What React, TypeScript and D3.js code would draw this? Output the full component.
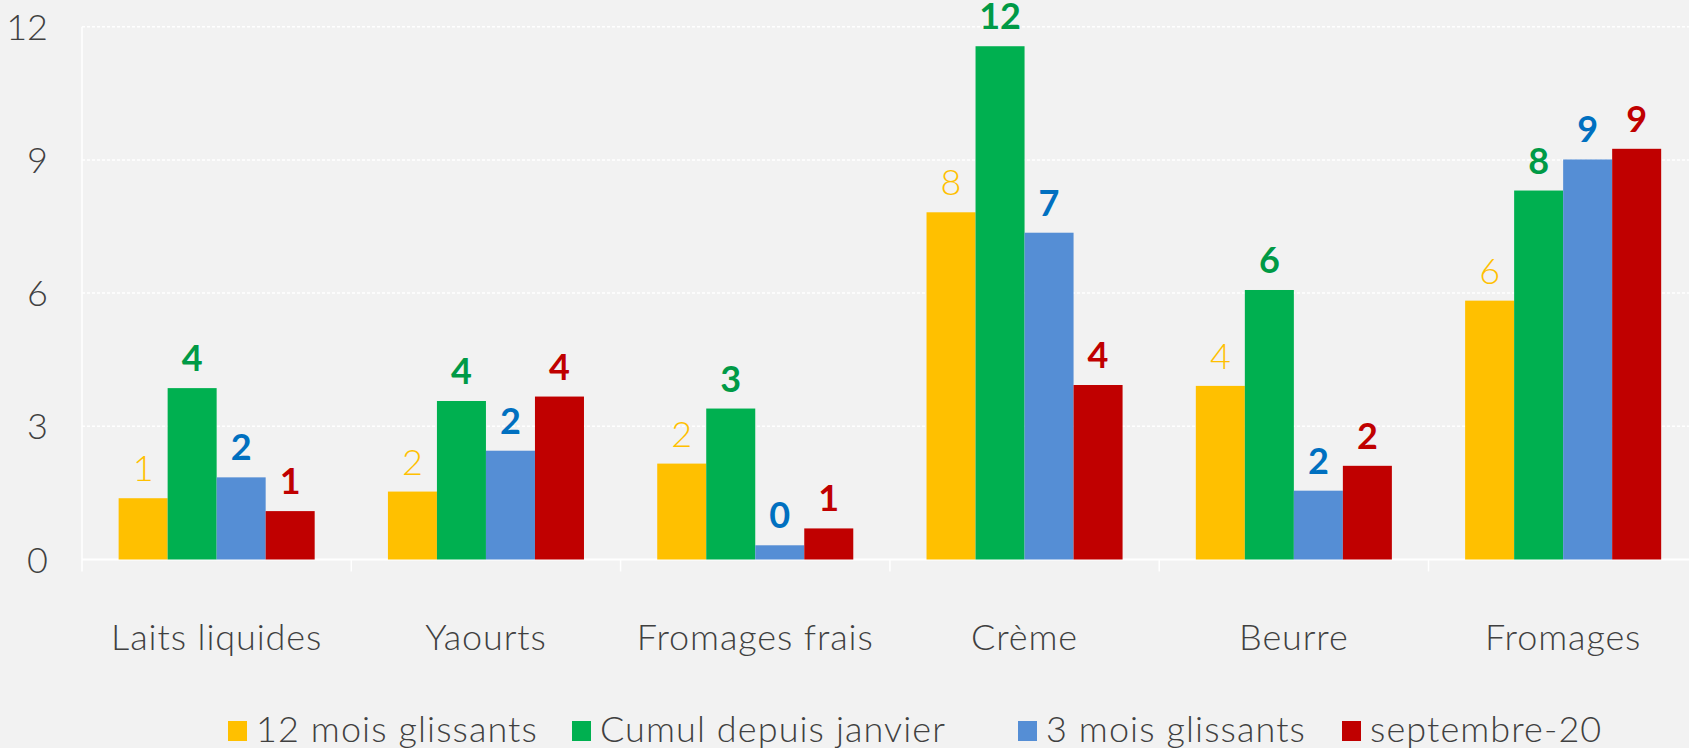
import React, { useEffect, useRef } from 'react';
import * as d3 from 'd3';

// categories and series
const categories = ['Laits liquides', 'Yaourts', 'Fromages frais', 'Crème', 'Beurre', 'Fromages'];
const seriesNames = ['12 mois glissants', 'Cumul depuis janvier', '3 mois glissants', 'septembre-20'];

const rolling12 = [1.38, 1.53, 2.16, 7.82, 3.91, 5.83];
const sinceJanuary = [3.86, 3.57, 3.4, 11.56, 6.07, 8.31];
const rolling3 = [1.85, 2.45, 0.32, 7.36, 1.55, 9.01];
const september20 = [1.09, 3.67, 0.7, 3.93, 2.11, 9.25];

const yTicks = [0, 3, 6, 9, 12];

const barColors = ['#FFC000', '#00B050', '#558ED5', '#C00000'];
const labelColors = ['#FFC000', '#009A46', '#0070C0', '#C00000'];
const labelWeights = [300, 700, 700, 700];

// legend swatch left edges (px)
const legendX = [228, 572, 1018, 1342];

const W = 1689;
const H = 748;
const FONT = 'Lato, "Open Sans", sans-serif';

export default function App() {
  const svgRef = useRef<SVGSVGElement | null>(null);

  useEffect(() => {
    if (!svgRef.current) return;
    const svg = d3.select(svgRef.current);
    svg.selectAll('*').remove();

    const values = [rolling12, sinceJanuary, rolling3, september20];
    const left = 82;
    const step = 269.3;
    const right = left + step * categories.length;

    const y = d3.scaleLinear().domain([0, 12]).range([559.5, 26.7]);
    const x0 = d3.scaleBand<string>().domain(categories).range([left, right]).paddingInner(0.272).paddingOuter(0.136);
    const x1 = d3.scaleBand<string>().domain(seriesNames).range([0, x0.bandwidth()]).padding(0);

    svg.append('rect').attr('width', W).attr('height', H).attr('fill', '#F2F2F2');

    // gridlines
    svg.append('g')
      .selectAll('line')
      .data(yTicks.filter((t) => t > 0))
      .join('line')
      .attr('x1', left)
      .attr('x2', W)
      .attr('y1', (d) => y(d))
      .attr('y2', (d) => y(d))
      .attr('stroke', '#FFFFFF')
      .attr('stroke-width', 1.5)
      .attr('stroke-dasharray', '3,2');

    // baseline + left axis + category ticks
    svg.append('line').attr('x1', left).attr('x2', W).attr('y1', y(0)).attr('y2', y(0)).attr('stroke', '#FFFFFF').attr('stroke-width', 2);
    svg.append('line').attr('x1', left).attr('x2', left).attr('y1', y(12)).attr('y2', y(0) + 12).attr('stroke', '#FFFFFF').attr('stroke-width', 1.5);
    svg.append('g')
      .selectAll('line')
      .data(d3.range(1, categories.length + 1))
      .join('line')
      .attr('x1', (i) => left + step * i)
      .attr('x2', (i) => left + step * i)
      .attr('y1', y(0))
      .attr('y2', y(0) + 12)
      .attr('stroke', '#FFFFFF')
      .attr('stroke-width', 1.5);

    // y labels
    svg.append('g')
      .selectAll('text')
      .data(yTicks)
      .join('text')
      .attr('x', 48)
      .attr('y', (d) => y(d) + 13)
      .attr('text-anchor', 'end')
      .attr('fill', '#404040')
      .attr('font-family', FONT)
      .attr('font-weight', 300)
      .attr('font-size', 36)
      .text((d) => d);

    // bars + labels
    seriesNames.forEach((s, si) => {
      const g = svg.append('g');
      g.selectAll('rect')
        .data(categories)
        .join('rect')
        .attr('x', (c) => (x0(c) as number) + (x1(s) as number))
        .attr('y', (c, i) => y(values[si][i]))
        .attr('width', x1.bandwidth())
        .attr('height', (c, i) => y(0) - y(values[si][i]))
        .attr('fill', barColors[si]);
      g.selectAll('text')
        .data(categories)
        .join('text')
        .attr('x', (c) => (x0(c) as number) + (x1(s) as number) + x1.bandwidth() / 2)
        .attr('y', (c, i) => y(values[si][i]) - 17)
        .attr('text-anchor', 'middle')
        .attr('fill', labelColors[si])
        .attr('font-family', FONT)
        .attr('font-weight', labelWeights[si])
        .attr('font-size', 36)
        .text((c, i) => Math.round(values[si][i]));
    });

    // category labels
    svg.append('g')
      .selectAll('text')
      .data(categories)
      .join('text')
      .attr('x', (c) => (x0(c) as number) + x0.bandwidth() / 2)
      .attr('y', 650)
      .attr('text-anchor', 'middle')
      .attr('fill', '#404040')
      .attr('font-family', FONT)
      .attr('font-weight', 300)
      .attr('font-size', 36)
      .attr('letter-spacing', 0.9)
      .text((c) => c);

    // legend
    const legend = svg.append('g');
    seriesNames.forEach((s, i) => {
      legend.append('rect').attr('x', legendX[i]).attr('y', 721).attr('width', 19).attr('height', 20).attr('fill', barColors[i]);
      legend.append('text')
        .attr('x', legendX[i] + 28)
        .attr('y', 742)
        .attr('fill', '#404040')
        .attr('font-family', FONT)
        .attr('font-weight', 300)
        .attr('font-size', 36)
        .attr('letter-spacing', 1.1)
        .text(s);
    });
  }, []);

  return (
    <svg
      ref={svgRef}
      width={W}
      height={H}
      style={{ position: 'absolute', left: 0, top: 0, display: 'block' }}
    />
  );
}
